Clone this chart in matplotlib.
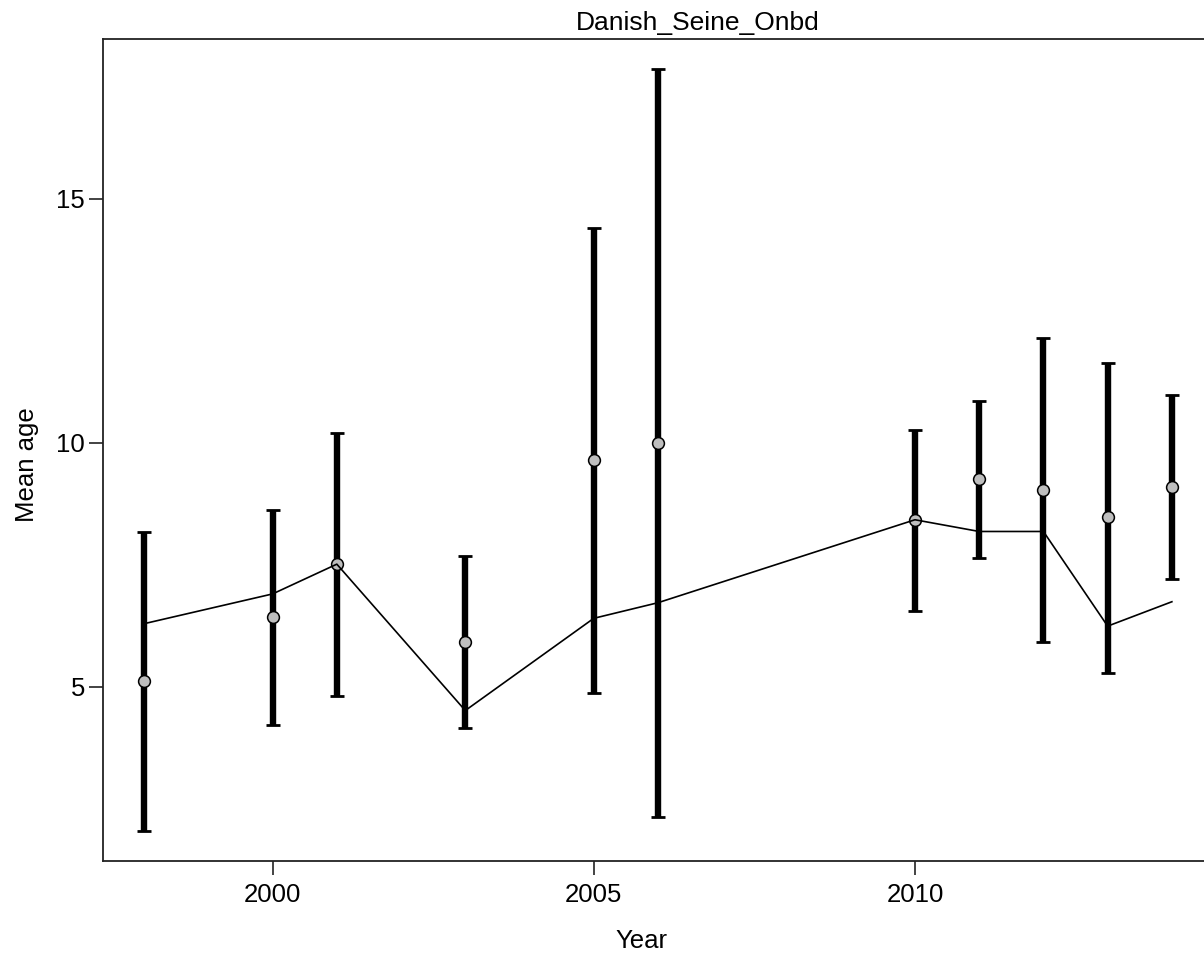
import matplotlib
matplotlib.use("Agg")
import matplotlib.pyplot as plt
import numpy as np

# values
years = [1998, 2000, 2001, 2003, 2005, 2006, 2010, 2011, 2012, 2013, 2014]
obs = [5.12, 6.43, 7.51, 5.92, 9.65, 9.99, 8.42, 9.25, 9.04, 8.47, 9.10]
lo = [2.05, 4.22, 4.80, 4.15, 4.86, 2.32, 6.56, 7.63, 5.91, 5.28, 7.21]
hi = [8.16, 8.61, 10.20, 7.68, 14.39, 17.65, 10.25, 10.86, 12.15, 11.63, 10.98]
expected = [6.29, 6.90, 7.51, 4.51, 6.40, 6.72, 8.42, 8.18, 8.18, 6.24, 6.74]

title = "Danish_Seine_Onbd"
xticks = [2000, 2005, 2010]
yticks = [5, 10, 15]

plt.rcParams["font.family"] = ["Liberation Sans", "DejaVu Sans"]

x = np.array(years)
obs = np.array(obs)
lo = np.array(lo)
hi = np.array(hi)

W, H = 1204, 956
fig = plt.figure(figsize=(W / 100, H / 100), dpi=100)
ax = fig.add_axes([103 / W, 1 - 861 / H, (1213 - 103) / W, (861 - 39) / H])

ax.errorbar(x, obs, yerr=[obs - lo, hi - obs], fmt="none", ecolor="black",
            elinewidth=4.6, capsize=5, capthick=2, zorder=2)
ax.plot(x, obs, "o", ms=8.5, mfc="#bebebe", mec="black", mew=1.1, zorder=3)
ax.plot(x, expected, color="black", lw=1.2, zorder=4)

# R style 4% padding
xr = x.max() - x.min()
ax.set_xlim(x.min() - 0.04 * xr, x.max() + 0.04 * xr)
ymin, ymax = lo.min(), hi.max()
yr = ymax - ymin
ax.set_ylim(ymin - 0.04 * yr, ymax + 0.04 * yr)

ax.set_xticks(xticks)
ax.set_yticks(yticks)
ax.tick_params(axis="both", labelsize=18.5, length=10, width=1.2, color="#222222")
ax.tick_params(axis="x", pad=6)
ax.tick_params(axis="y", pad=3)
for s in ax.spines.values():
    s.set_linewidth(1.3)
    s.set_color("#222222")

fig.text(698 / W, 1 - 23 / H, title, ha="center", va="center", fontsize=19)
fig.text(641 / W, 1 - 941 / H, "Year", ha="center", va="center", fontsize=18.5)
fig.text(27 / W, 1 - 465 / H, "Mean age", ha="center", va="center",
         rotation=90, fontsize=18.5)

fig.savefig("out.png", dpi=100)
